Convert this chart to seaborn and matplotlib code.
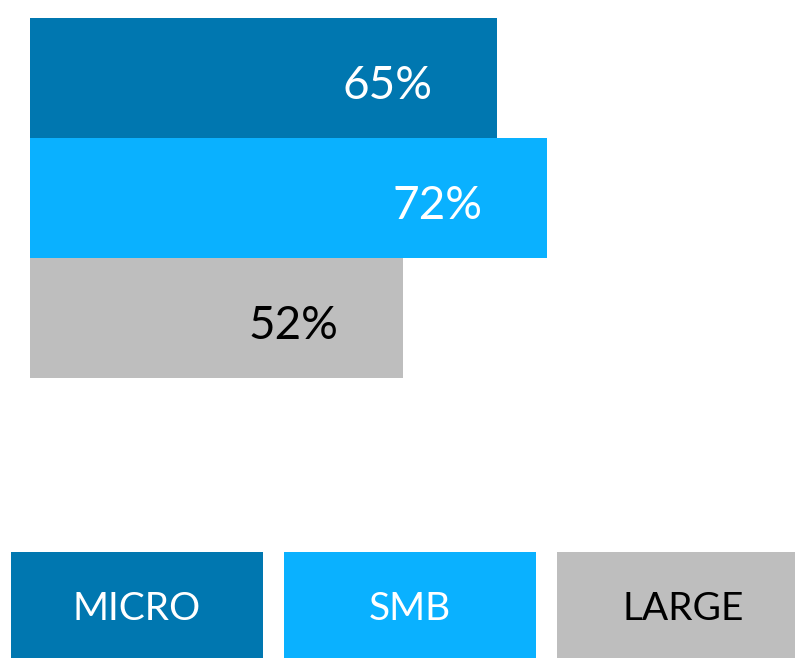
import matplotlib
matplotlib.use("Agg")
import matplotlib.pyplot as plt
import seaborn as sns

# data
segments = ["MICRO", "SMB", "LARGE"]
shares = [65, 72, 52]
colors = ["#0077B0", "#0AB1FF", "#BEBEBE"]
label_colors = ["white", "white", "black"]
legend_text_colors = ["white", "white", "black"]

sns.set_theme(style="white")
plt.rcParams["font.family"] = ["Lato", "DejaVu Sans"]

fig = plt.figure(figsize=(7.95, 6.58), dpi=100)

# main bars
ax = fig.add_axes([30 / 795, 280 / 658, 718 / 795, 360 / 658])
sns.barplot(x=shares, y=segments, hue=segments, palette=colors, orient="h",
            width=1, saturation=1, linewidth=0, legend=False, ax=ax)
ax.set_xlim(0, 100)
ax.set_ylim(2.5, -0.5)
for i, (v, c) in enumerate(zip(shares, label_colors)):
    ax.text(v - 9, i + 0.07, f"{v}%", ha="right", va="center",
            fontsize=33, color=c)
ax.axis("off")

# legend boxes
lax = fig.add_axes([11 / 795, 0, 798 / 795, 106 / 658])
sns.barplot(x=segments, y=[1, 1, 1], hue=segments, palette=colors,
            width=252 / 273, saturation=1, linewidth=0, legend=False, ax=lax)
w = 252 / 273
lax.set_xlim(-w / 2, 2 + w / 2)
lax.set_ylim(0, 1)
for i, (s, c) in enumerate(zip(segments, legend_text_colors)):
    lax.text(i, 0.46, s, ha="center", va="center", fontsize=28, color=c)
lax.axis("off")

fig.savefig("out.png", dpi=100)
